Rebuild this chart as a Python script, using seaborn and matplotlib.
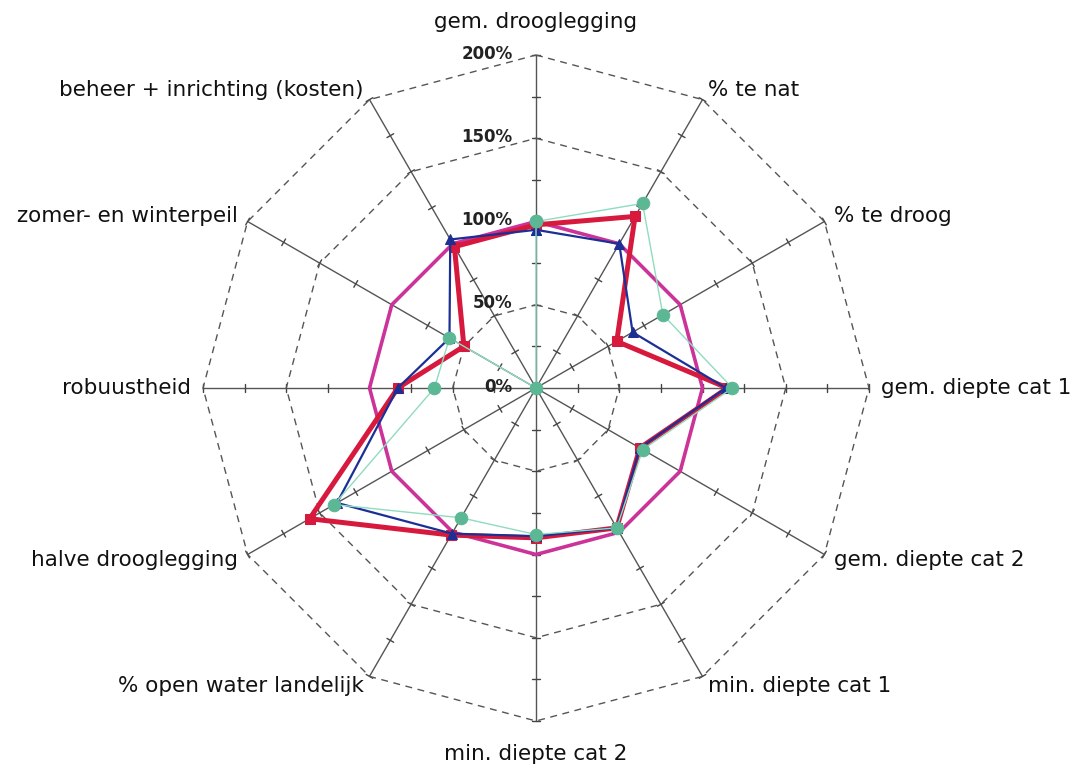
import numpy as np
import pandas as pd
import seaborn as sns
import matplotlib.pyplot as plt

# Axis names, clockwise starting at the top
criteria = ["gem. drooglegging", "% te nat", "% te droog", "gem. diepte cat 1",
            "gem. diepte cat 2", "min. diepte cat 1", "min. diepte cat 2",
            "% open water landelijk", "halve drooglegging", "robuustheid",
            "zomer- en winterpeil", "beheer + inrichting (kosten)"]

# Scores in percent of the reference situation
referentie = [100, 100, 100, 100, 100, 100, 100, 100, 100, 100, 100, 100]
variant_rood = [98, 119, 56, 115, 72, 97, 90, 102, 157, 83, 50, 98]
variant_blauw = [95, 100, 67, 114, 72, 97, 89, 101, 138, 83, 60, 103]
variant_groen = [100, 128, 88, 118, 74, 97, 88, 90, 140, 61, 60, 0]

grid_levels = [0, 50, 100, 150, 200]
grid_labels = ["0%", "50%", "100%", "150%", "200%"]

sns.set_style("white")
plt.rcParams['font.family'] = ['DejaVu Sans']

n = len(criteria)
angles = np.arange(n) * 2 * np.pi / n  # clockwise from top


def to_xy(values):
    # Polar (clockwise from north) to cartesian, closing the polygon
    v = np.append(values, values[0])
    a = np.append(angles, angles[0])
    return v * np.sin(a), v * np.cos(a)


fig = plt.figure(figsize=(10.8, 7.69), dpi=100)
ax = fig.add_axes([0, 0, 1, 1])
scale = 1.665  # px per percent
ax.set_xlim(-536 / scale, (1080 - 536) / scale)
ax.set_ylim(-(769 - 388) / scale, 388 / scale)
ax.set_aspect('equal')
ax.axis('off')

# Spokes with small tick marks every 25%
for a in angles:
    ax.plot([0, 200 * np.sin(a)], [0, 200 * np.cos(a)], color='#555555', lw=1, zorder=1)
    for r in np.arange(25, 201, 25):
        cx, cy = r * np.sin(a), r * np.cos(a)
        px, py = np.cos(a) * 2.3, -np.sin(a) * 2.3
        ax.plot([cx - px, cx + px], [cy - py, cy + py], color='#444444', lw=1, zorder=1)

# Dashed polygonal grid
for level in grid_levels[1:]:
    gx, gy = to_xy(np.full(n, level))
    ax.plot(gx, gy, color='#555555', lw=1, dashes=(5, 4), zorder=1)

for level, lab in zip(grid_levels, grid_labels):
    ax.text(-14, level + 0.8, lab, ha='right', va='center', fontsize=12,
            fontweight='bold', color='#222222', zorder=6)

# Series
series = [
    (referentie, '#cc3399', 2.6, None, 0, '#cc3399'),
    (variant_rood, '#d6193c', 3.6, 's', 7, '#d6193c'),
    (variant_blauw, '#1c2f94', 1.6, '^', 7.5, '#1c2f94'),
    (variant_groen, '#8fdcc0', 1.0, 'o', 9, '#5cb894'),
]
for i, (vals, col, lw, mk, ms, mcol) in enumerate(series):
    sx, sy = to_xy(np.array(vals, dtype=float))
    df = pd.DataFrame({'x': sx, 'y': sy})
    sns.lineplot(data=df, x='x', y='y', sort=False, estimator=None, color=col,
                 lw=lw, marker=mk, markersize=ms, markerfacecolor=mcol,
                 markeredgecolor=mcol, ax=ax, zorder=2 + i)

# Axis labels around the chart
for a, name in zip(angles, criteria):
    deg = np.degrees(a)
    if deg == 0 or deg == 180:
        r, ha = 220, 'center'
    else:
        r = 207
        ha = 'left' if deg < 180 else 'right'
    ax.text(r * np.sin(a), r * np.cos(a), name, ha=ha, va='center',
            fontsize=15.5, color='#111111')

ax.set_xlabel("")
ax.set_ylabel("")
fig.savefig("out.png", dpi=100)
